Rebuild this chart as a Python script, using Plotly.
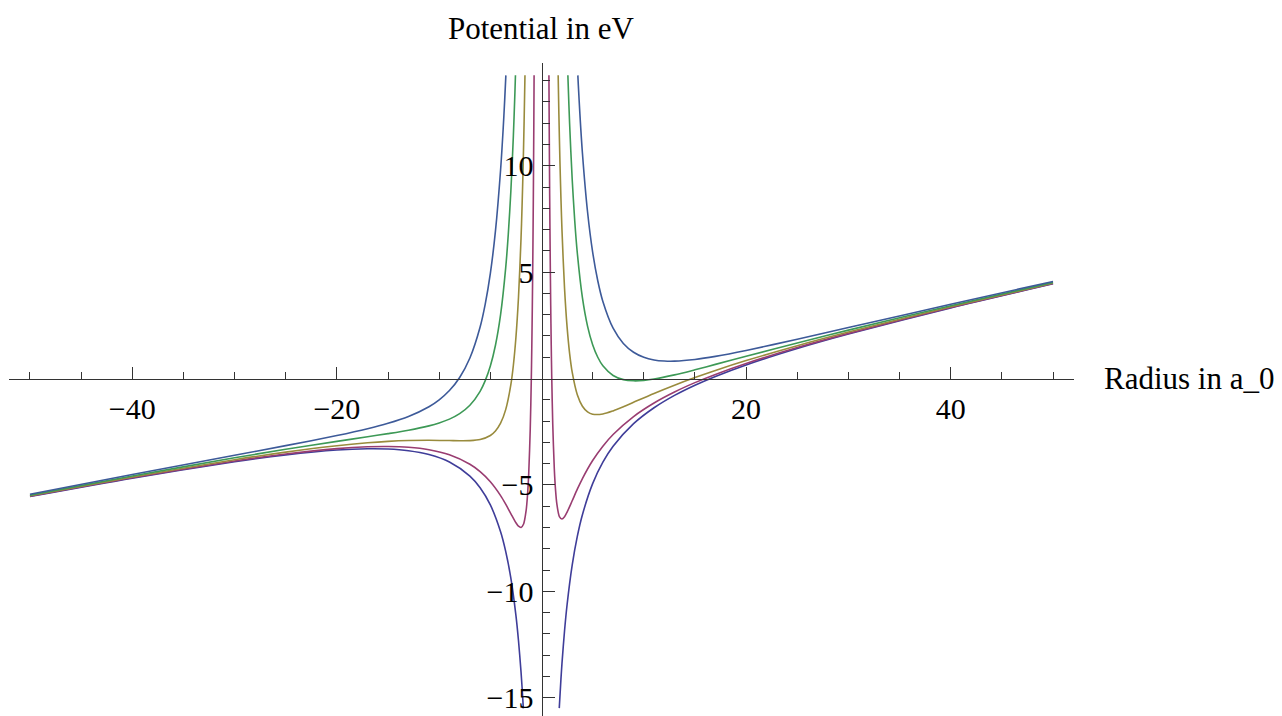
import plotly.graph_objects as go

# ---- data (radius in a_0, potential in eV) ----
l0_neg_x = [-50, -40, -30, -25, -20, -17, -15, -13, -11, -9, -7, -6, -5, -4, -3.5, -3, -2.5, -2.25, -2, -1.9, -1.775]
l0_neg_y = [-5.544, -4.68, -3.907, -3.588, -3.36, -3.3, -3.313, -3.392, -3.573, -3.922, -4.586, -5.133, -5.94, -7.2, -8.121, -9.367, -11.13, -12.314, -13.8, -14.506, -15.5]
l0_pos_x = [1.736, 1.9, 2, 2.25, 2.5, 3, 3.5, 4, 5, 6, 7, 9, 11, 13, 15, 17, 20, 25, 30, 40, 50]
l0_pos_y = [-15.49, -14.126, -13.4, -11.864, -10.63, -8.767, -7.421, -6.4, -4.94, -3.933, -3.186, -2.122, -1.373, -0.792, -0.313, 0.1, 0.64, 1.412, 2.093, 3.32, 4.456]

l1_neg_x = [-50, -40, -30, -25, -20, -17, -15, -13, -11, -9, -7, -6, -5, -4, -3.5, -3, -2.5, -2.25, -2, -1.75, -1.5, -1.375, -1.25, -1.1, -1, -0.95, -0.9, -0.85, -0.8, -0.75, -0.724]
l1_neg_y = [-5.533, -4.663, -3.877, -3.545, -3.292, -3.206, -3.192, -3.231, -3.348, -3.586, -4.031, -4.377, -4.852, -5.5, -5.901, -6.345, -6.778, -6.941, -7.0, -6.836, -6.194, -5.533, -4.477, -2.358, -0.1, 1.412, 3.268, 5.562, 8.42, 12.014, 14.25]
l1_pos_x = [0.7255, 0.75, 0.8, 0.85, 0.9, 0.95, 1, 1.1, 1.25, 1.375, 1.5, 1.75, 2, 2.25, 2.5, 3, 3.5, 4, 5, 6, 7, 9, 11, 13, 15, 17, 20, 25, 30, 40, 50]
l1_pos_y = [14.25, 12.164, 8.58, 5.732, 3.448, 1.602, 0.1, -2.138, -4.227, -5.258, -5.894, -6.486, -6.6, -6.491, -6.278, -5.745, -5.201, -4.7, -3.852, -3.178, -2.631, -1.786, -1.148, -0.631, -0.192, 0.194, 0.708, 1.456, 2.123, 3.337, 4.467]

l2_neg_x = [-50, -40, -30, -25, -20, -17, -15, -13, -11, -9, -8, -7, -6, -5, -4.5, -4, -3.5, -3, -2.75, -2.5, -2.25, -2, -1.9, -1.8, -1.7, -1.616]
l2_neg_y = [-5.511, -4.629, -3.816, -3.457, -3.156, -3.018, -2.951, -2.910, -2.898, -2.915, -2.925, -2.920, -2.867, -2.676, -2.465, -2.1, -1.460, -0.3, 0.624, 1.926, 3.805, 6.6, 8.098, 9.894, 12.065, 14.25]
l2_pos_x = [1.628, 1.7, 1.8, 1.9, 2, 2.25, 2.5, 2.75, 3, 3.5, 4, 4.5, 5, 6, 7, 8, 9, 11, 13, 15, 17, 20, 25, 30, 40, 50]
l2_pos_y = [14.25, 12.405, 10.254, 8.478, 7.0, 4.255, 2.426, 1.174, 0.3, -0.760, -1.3, -1.565, -1.676, -1.667, -1.520, -1.325, -1.115, -0.698, -0.310, 0.049, 0.382, 0.844, 1.543, 2.184, 3.371, 4.489]

l3_neg_x = [-50, -40, -30, -25, -20, -17, -15, -13, -11, -10, -9, -8, -7, -6, -5.5, -5, -4.5, -4, -3.5, -3.25, -3, -2.75, -2.6, -2.545]
l3_neg_y = [-5.479, -4.578, -3.725, -3.327, -2.952, -2.735, -2.588, -2.427, -2.224, -2.088, -1.907, -1.65, -1.255, -0.6, -0.100, 0.588, 1.565, 3.0, 5.201, 6.757, 8.767, 11.414, 13.42, 14.25]
l3_pos_x = [2.579, 2.6, 2.75, 3, 3.25, 3.5, 4, 4.5, 5, 5.5, 6, 7, 8, 9, 10, 11, 13, 15, 17, 20, 25, 30, 40, 50]
l3_pos_y = [14.25, 13.94, 11.964, 9.367, 7.407, 5.901, 3.8, 2.465, 1.588, 1.0, 0.6, 0.145, -0.05, -0.107, -0.088, -0.024, 0.173, 0.412, 0.665, 1.048, 1.673, 2.275, 3.422, 4.521]

l4_neg_x = [-50, -40, -30, -25, -20, -17, -15, -13, -11, -10, -9, -8, -7, -6, -5.5, -5, -4.5, -4, -3.75, -3.6, -3.484]
l4_neg_y = [-5.435, -4.51, -3.604, -3.153, -2.68, -2.359, -2.104, -1.783, -1.325, -1.0, -0.564, 0.05, 0.965, 2.422, 3.497, 4.94, 6.938, 9.8, 11.714, 13.072, 14.25]
l4_pos_x = [3.553, 3.6, 3.75, 4, 4.5, 5, 5.5, 6, 7, 8, 9, 10, 11, 12, 13, 15, 17, 20, 25, 30, 40, 50]
l4_pos_y = [14.25, 13.792, 12.464, 10.6, 7.838, 5.94, 4.597, 3.622, 2.365, 1.65, 1.236, 1.0, 0.875, 0.822, 0.817, 0.896, 1.041, 1.32, 1.847, 2.396, 3.49, 4.565]

series = [
    (l0_neg_x, l0_neg_y, l0_pos_x, l0_pos_y, "#3f3d99"),
    (l1_neg_x, l1_neg_y, l1_pos_x, l1_pos_y, "#993d71"),
    (l2_neg_x, l2_neg_y, l2_pos_x, l2_pos_y, "#998b3d"),
    (l3_neg_x, l3_neg_y, l3_pos_x, l3_pos_y, "#3d9956"),
    (l4_neg_x, l4_neg_y, l4_pos_x, l4_pos_y, "#3d5a99"),
]

x_major = [-40, -20, 20, 40]
x_major_text = ["\u221240", "\u221220", "20", "40"]
x_minor = [-50, -45, -35, -30, -25, -15, -10, -5, 5, 10, 15, 25, 30, 35, 45, 50]
y_major = [-15, -10, -5, 5, 10]
y_major_text = ["\u221215", "\u221210", "\u22125", "5", "10"]
y_minor = [v for v in range(-15, 15) if v % 5 != 0]

x_range = [-52.05, 52.05]
y_range = [-15.86, 14.83]

fig = go.Figure()
for nx, ny, px, py, col in series:
    fig.add_trace(go.Scatter(
        x=nx + [None] + px, y=ny + [None] + py, mode="lines",
        line=dict(color=col, width=1.6, shape="spline", smoothing=0.8),
        connectgaps=False, showlegend=False, hoverinfo="skip"))

axis_col = "#333333"
serif = "Liberation Serif, Times New Roman, serif"
tick_font = dict(family=serif, size=30, color="black")
x_pos = (0 - y_range[0]) / (y_range[1] - y_range[0])
y_pos = (0 - x_range[0]) / (x_range[1] - x_range[0])

# the page body has an 8px default margin, so the figure is sized to fit the window
fig.update_layout(
    width=1274, height=708,
    margin=dict(l=1, r=208, t=55, b=0, autoexpand=False),
    paper_bgcolor="white", plot_bgcolor="white",
    xaxis=dict(range=x_range, anchor="free", position=x_pos,
               showline=True, linecolor=axis_col, linewidth=1,
               showgrid=False, zeroline=False, automargin=False,
               tickmode="array", tickvals=x_major, ticktext=x_major_text,
               ticks="inside", ticklen=12, tickwidth=1, tickcolor=axis_col,
               tickfont=tick_font, ticklabelstandoff=3,
               minor=dict(tickmode="array", tickvals=x_minor, ticks="inside",
                          ticklen=7, tickwidth=1, tickcolor=axis_col, showgrid=False)),
    yaxis=dict(range=y_range, anchor="free", position=y_pos,
               showline=True, linecolor=axis_col, linewidth=1,
               showgrid=False, zeroline=False, automargin=False,
               tickmode="array", tickvals=y_major, ticktext=y_major_text,
               ticks="inside", ticklen=12, tickwidth=1, tickcolor=axis_col,
               tickfont=tick_font, ticklabelstandoff=2,
               minor=dict(tickmode="array", tickvals=y_minor, ticks="inside",
                          ticklen=7, tickwidth=1, tickcolor=axis_col, showgrid=False)),
    annotations=[
        dict(text="Potential in eV", xref="x", yref="paper", x=0, y=1,
             xanchor="center", yanchor="middle", yshift=35, showarrow=False,
             font=dict(family=serif, size=31, color="black")),
        dict(text="Radius in a_0", xref="paper", yref="y", x=1, y=0,
             xanchor="left", yanchor="middle", xshift=28, showarrow=False,
             font=dict(family=serif, size=31, color="black")),
    ],
)

fig.write_html("out.html")
